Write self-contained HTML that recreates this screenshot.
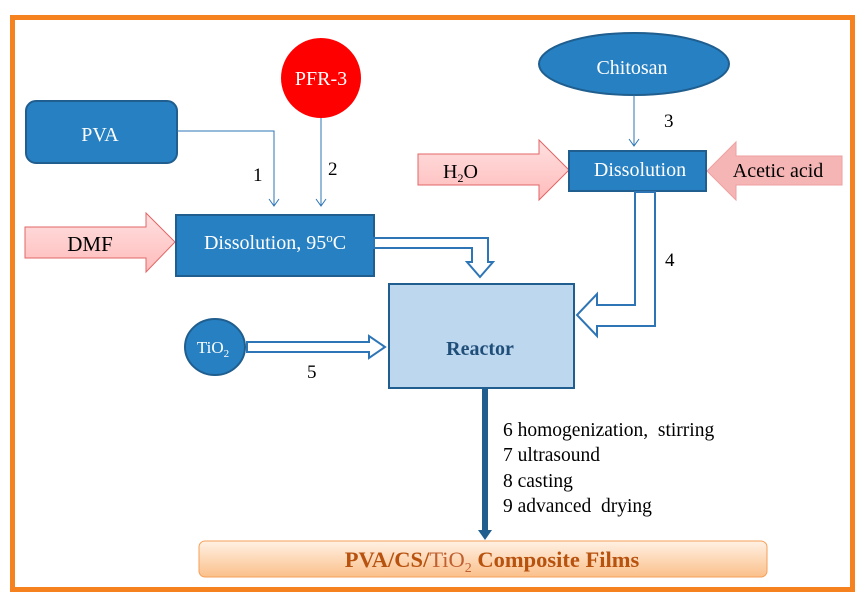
<!DOCTYPE html>
<html><head><meta charset="utf-8"><style>
body{margin:0;background:#fff;}
svg{display:block;font-family:"Liberation Serif",serif;}
</style></head><body>
<svg width="867" height="605" viewBox="0 0 867 605" xmlns="http://www.w3.org/2000/svg">
<defs>
<linearGradient id="pk" x1="0" y1="0" x2="0" y2="1"><stop offset="0" stop-color="#ffe0e0"/><stop offset="1" stop-color="#fbb"/></linearGradient>
<linearGradient id="og" x1="0" y1="0" x2="0" y2="1"><stop offset="0" stop-color="#fff1e4"/><stop offset="1" stop-color="#fbc08a"/></linearGradient>
</defs>
<rect x="12.5" y="17.5" width="840" height="572" fill="#fff" stroke="#f5821f" stroke-width="5"/>
<rect x="26" y="101" width="151" height="62" rx="10" fill="#2680c2" stroke="#1f5e8e" stroke-width="2"/>
<text x="100" y="141" font-size="20" fill="#fff" text-anchor="middle">PVA</text>
<circle cx="321" cy="78" r="40" fill="#ff0000"/>
<text x="321" y="85" font-size="20" fill="#fff" text-anchor="middle">PFR-3</text>
<polyline points="177,131 274,131 274,206" fill="none" stroke="#2e75b6" stroke-width="1"/>
<polyline points="269,199 274,206 279,199" fill="none" stroke="#2e75b6" stroke-width="1"/>
<line x1="321" y1="118" x2="321" y2="206" stroke="#2e75b6" stroke-width="1"/>
<polyline points="316,199 321,206 326,199" fill="none" stroke="#2e75b6" stroke-width="1"/>
<text x="253" y="181" font-size="19">1</text>
<text x="328" y="175" font-size="19">2</text>
<polygon points="25,227 146,227 146,213 175,242 146,272 146,258 25,258" fill="url(#pk)" stroke="#e06666" stroke-width="1"/>
<text x="90" y="251" font-size="21" text-anchor="middle">DMF</text>
<rect x="176" y="215" width="198" height="61" fill="#2680c2" stroke="#1f5e8e" stroke-width="2"/>
<text x="275" y="249" font-size="20" fill="#fff" text-anchor="middle">Dissolution, 95<tspan font-size="13" dy="-7">o</tspan><tspan dy="7">C</tspan></text>
<polygon points="374,238 488,238 488,262 493,262 480,277 467,262 472,262 472,248 374,248" fill="#fff" stroke="#2e75b6" stroke-width="2"/>
<ellipse cx="634" cy="64" rx="95" ry="31" fill="#2680c2" stroke="#1f5e8e" stroke-width="2"/>
<text x="632" y="74" font-size="20" fill="#fff" text-anchor="middle">Chitosan</text>
<line x1="634" y1="95" x2="634" y2="146" stroke="#2e75b6" stroke-width="1"/>
<polyline points="629,139 634,146 639,139" fill="none" stroke="#2e75b6" stroke-width="1"/>
<text x="664" y="127" font-size="19">3</text>
<polygon points="418,154 539,154 539,140 569,170 539,200 539,185 418,185" fill="url(#pk)" stroke="#e06666" stroke-width="1"/>
<text x="443" y="178" font-size="20">H<tspan font-size="12" dy="4">2</tspan><tspan dy="-4">O</tspan></text>
<polygon points="842,156 736,156 736,142 707,171 736,200 736,185 842,185" fill="#f5b5b5" stroke="#eea0a0" stroke-width="1"/>
<text x="778" y="177" font-size="20" text-anchor="middle">Acetic acid</text>
<rect x="569" y="151" width="137" height="40" fill="#2680c2" stroke="#1f5e8e" stroke-width="2"/>
<text x="640" y="176" font-size="20" fill="#fff" text-anchor="middle">Dissolution</text>
<polygon points="635,192 655,192 655,326 597,326 597,336 577,315 597,294 597,305 635,305" fill="#fff" stroke="#2e75b6" stroke-width="2"/>
<text x="665" y="266" font-size="19">4</text>
<rect x="389" y="284" width="185" height="104" fill="#bdd7ee" stroke="#1f5e8e" stroke-width="2"/>
<text x="480" y="355" font-size="20" font-weight="bold" fill="#1f4e79" text-anchor="middle">Reactor</text>
<ellipse cx="215" cy="347" rx="30" ry="28" fill="#2680c2" stroke="#1f5e8e" stroke-width="2"/>
<text x="213" y="353" font-size="17" fill="#fff" text-anchor="middle">TiO<tspan font-size="11" dy="4">2</tspan></text>
<polygon points="247,342 369,342 369,336 385,347 369,358 369,352 247,352" fill="#fff" stroke="#2e75b6" stroke-width="2"/>
<text x="307" y="378" font-size="19">5</text>
<line x1="485" y1="388" x2="485" y2="530" stroke="#1f5e8e" stroke-width="6"/>
<polygon points="478,530 492,530 485,540" fill="#1f5e8e"/>
<g font-size="19.5">
<text x="503" y="436">6 homogenization,&#160; stirring</text>
<text x="503" y="461">7 ultrasound</text>
<text x="503" y="487">8 casting</text>
<text x="503" y="512">9 advanced&#160; drying</text>
</g>
<rect x="199" y="541" width="568" height="36" rx="6" fill="url(#og)" stroke="#f5a05a" stroke-width="1"/>
<text x="492" y="567" font-size="22.5" font-weight="bold" fill="#b8520f" text-anchor="middle">PVA/CS/<tspan font-weight="normal" fill="#c06030">TiO<tspan font-size="14" dy="5">2</tspan></tspan><tspan dy="-5"> Composite Films</tspan></text>
</svg>
</body></html>
